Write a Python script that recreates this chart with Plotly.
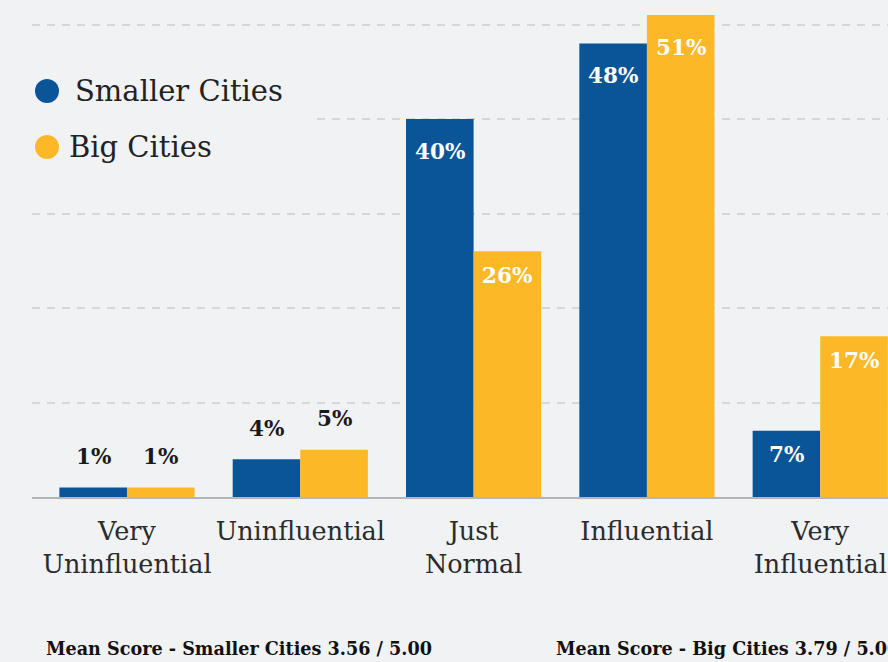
import plotly.graph_objects as go

# Survey: perceived influence, smaller vs big cities (% of respondents)
categories = ["Very<br>Uninfluential", "Uninfluential", "Just<br>Normal",
              "Influential", "Very<br>Influential"]
smaller_cities = [1, 4, 40, 48, 7]
big_cities = [1, 5, 26, 51, 17]
series_names = ["Smaller Cities", "Big Cities"]
mean_smaller = "3.56"
mean_big = "3.79"

BLUE = "#0a5597"
YELLOW = "#fcb827"
BG = "#f1f2f4"
SERIF = "DejaVu Serif"

W, H = 888, 662
M_L, M_R, M_T, M_B = 32, 0, 0, 165
PLOT_W = W - M_L - M_R
PLOT_H = H - M_T - M_B

BARGAP = 0.22
X_RANGE = [-0.548, 4.391]
Y_RANGE = [0, 52.6]


def px_x(px):
    """Window x pixel -> paper coordinate."""
    return (px - M_L) / PLOT_W


def px_y(py):
    """Window y pixel -> paper coordinate."""
    return (H - M_B - py) / PLOT_H


idx = list(range(len(categories)))
fig = go.Figure()
for name, vals, col in [(series_names[0], smaller_cities, BLUE),
                        (series_names[1], big_cities, YELLOW)]:
    fig.add_trace(go.Bar(x=idx, y=vals, name=name, marker_color=col,
                         marker_line_width=0, showlegend=False,
                         hoverinfo="skip"))

# Value labels: white inside tall bars, dark above short ones
half = (1 - BARGAP) / 4
annotations = []
for offset, vals in [(-half, smaller_cities), (half, big_cities)]:
    for i, v in enumerate(vals):
        inside = v >= 6
        annotations.append(dict(
            x=i + offset, y=v, xref="x", yref="y", text=f"{v}%",
            showarrow=False, yanchor="middle",
            yshift=(-32 if v >= 30 else -24) if inside else 31,
            font=dict(family=SERIF, size=21.5,
                      color="#ffffff" if inside else "#1a1a1a",
                      weight="bold")))

# Mean score footnotes
annotations.append(dict(
    x=px_x(44), y=px_y(648), xref="paper", yref="paper", xanchor="left",
    yanchor="middle", showarrow=False,
    text=f"Mean Score - Smaller Cities {mean_smaller} / 5.00",
    font=dict(family=SERIF, size=17.6, color="#111111", weight="bold")))
annotations.append(dict(
    x=px_x(554), y=px_y(648), xref="paper", yref="paper", xanchor="left",
    yanchor="middle", showarrow=False,
    text=f"Mean Score - Big Cities {mean_big} / 5.00",
    font=dict(family=SERIF, size=17.6, color="#111111", weight="bold")))

# Custom legend with large round swatches
shapes = [dict(type="rect", xref="paper", yref="paper", layer="above",
               x0=px_x(32), x1=px_x(312), y0=px_y(60), y1=px_y(175),
               fillcolor=BG, line_width=0)]
legend_rows = [(91, 73, series_names[0], BLUE), (147, 67, series_names[1], YELLOW)]
for cy, tx, label, col in legend_rows:
    shapes.append(dict(type="circle", xref="paper", yref="paper", layer="above",
                       x0=px_x(35), x1=px_x(59), y0=px_y(cy + 12), y1=px_y(cy - 12),
                       fillcolor=col, line_width=0))
    annotations.append(dict(
        x=px_x(tx), y=px_y(cy), xref="paper", yref="paper", xanchor="left",
        yanchor="middle", showarrow=False, text=label,
        font=dict(family=SERIF, size=29, color="#222222")))

fig.update_layout(
    width=W, height=H,
    margin=dict(l=M_L, r=M_R, t=M_T, b=M_B, pad=0),
    paper_bgcolor=BG, plot_bgcolor=BG,
    barmode="group", bargap=BARGAP, bargroupgap=0,
    showlegend=False,
    annotations=annotations, shapes=shapes,
    xaxis=dict(range=X_RANGE, tickmode="array", tickvals=idx,
               ticktext=categories, showgrid=False, zeroline=False,
               showline=True, linecolor="#b4b5b7", linewidth=2,
               ticks="", ticklabelstandoff=10,
               tickfont=dict(family=SERIF, size=25.5, color="#2b2b2b")),
    yaxis=dict(range=Y_RANGE, tickvals=[10, 20, 30, 40, 50],
               showticklabels=False, showgrid=True, gridcolor="#d6d7d9",
               gridwidth=2, griddash="8px,7px", zeroline=False,
               showline=False, ticks=""),
)

fig.write_html("out.html")
